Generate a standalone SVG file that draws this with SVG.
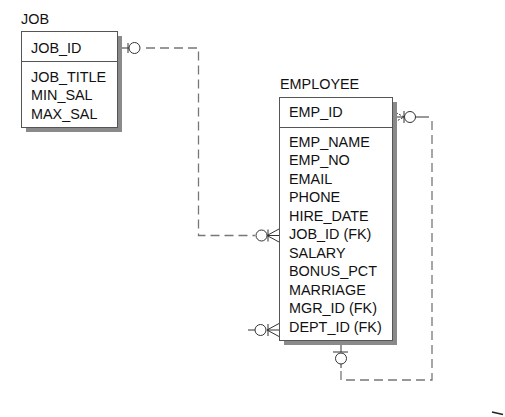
<svg xmlns="http://www.w3.org/2000/svg" width="505" height="417" viewBox="0 0 505 417">
<style>
text{font-family:"Liberation Sans",Arial,sans-serif;font-size:14.4px;fill:#111}
.box{fill:#fff;stroke:#555;stroke-width:1}
.shadow{fill:#8a8a8a}
.div{stroke:#555;stroke-width:1}
.dash{fill:none;stroke:#777;stroke-width:1.3;stroke-dasharray:9 5}
.solid{fill:none;stroke:#333;stroke-width:1}
.circ{fill:#fff;stroke:#333;stroke-width:1}
</style>
<rect width="505" height="417" fill="#fff"/>
<g id="connectors">
  <!-- JOB to EMPLOYEE -->
  <line class="solid" x1="117" y1="48" x2="129" y2="48"/>
  <line class="solid" x1="128" y1="43" x2="128" y2="53"/>
  <circle class="circ" cx="134.5" cy="48" r="5.5"/>
  <path class="dash" d="M146 48 H198.5 V235.5 H255"/>
  <circle class="circ" cx="261.5" cy="235.5" r="5.5"/>
  <line class="solid" x1="268" y1="229.5" x2="268" y2="241.5"/>
  <path class="solid" d="M267 235.5 L279 229 M267 235.5 L279 235.5 M267 235.5 L279 242"/>
  <!-- DEPT stub -->
  <line class="solid" x1="248" y1="330" x2="255" y2="330"/>
  <circle class="circ" cx="260.5" cy="330" r="5.5"/>
  <line class="solid" x1="268" y1="324" x2="268" y2="336"/>
  <path class="solid" d="M267 330 L279 323.5 M267 330 L279 330 M267 330 L279 336.5"/>
  <!-- self relationship -->
  <path class="solid" d="M393 111 L404 117 L393 123" stroke-dasharray="2 1.5"/>
  <line class="solid" x1="393" y1="117" x2="404" y2="117"/>
  <line class="solid" x1="404" y1="111" x2="404" y2="123"/>
  <circle class="circ" cx="410" cy="117" r="5.5"/>
  <line class="solid" x1="415.5" y1="117" x2="429" y2="117"/>
  <path class="dash" d="M432 121 V380 H341 V368"/>
  <line class="solid" x1="341" y1="341" x2="341" y2="352"/>
  <line class="solid" x1="333" y1="352" x2="348" y2="352"/>
  <circle class="circ" cx="341" cy="358.5" r="5.5"/>
  <line class="solid" x1="341" y1="364" x2="341" y2="368"/>
  <!-- stray mark -->
  <line x1="492" y1="412" x2="503" y2="414.5" stroke="#222" stroke-width="1.5"/>
</g>
<g id="job">
  <text x="21" y="24">JOB</text>
  <rect class="shadow" x="26" y="36" width="96" height="96"/>
  <rect class="box" x="21.5" y="31.5" width="96" height="96"/>
  <line class="div" x1="21.5" y1="61.5" x2="117.5" y2="61.5"/>
  <text x="31" y="53">JOB_ID</text>
  <text x="31" y="81.5">JOB_TITLE</text>
  <text x="31" y="100">MIN_SAL</text>
  <text x="31" y="118.5">MAX_SAL</text>
</g>
<g id="employee">
  <text x="280" y="89">EMPLOYEE</text>
  <rect class="shadow" x="284" y="102" width="113" height="243"/>
  <rect class="box" x="279.5" y="97.5" width="113" height="243"/>
  <line class="div" x1="279.5" y1="127.5" x2="392.5" y2="127.5"/>
  <text x="289" y="117">EMP_ID</text>
  <text x="289" y="146.5">EMP_NAME</text>
  <text x="289" y="165">EMP_NO</text>
  <text x="289" y="183.5">EMAIL</text>
  <text x="289" y="202">PHONE</text>
  <text x="289" y="220.5">HIRE_DATE</text>
  <text x="289" y="239">JOB_ID (FK)</text>
  <text x="289" y="257.5">SALARY</text>
  <text x="289" y="276">BONUS_PCT</text>
  <text x="289" y="294.5">MARRIAGE</text>
  <text x="289" y="313">MGR_ID (FK)</text>
  <text x="289" y="331.5">DEPT_ID (FK)</text>
</g>
</svg>
